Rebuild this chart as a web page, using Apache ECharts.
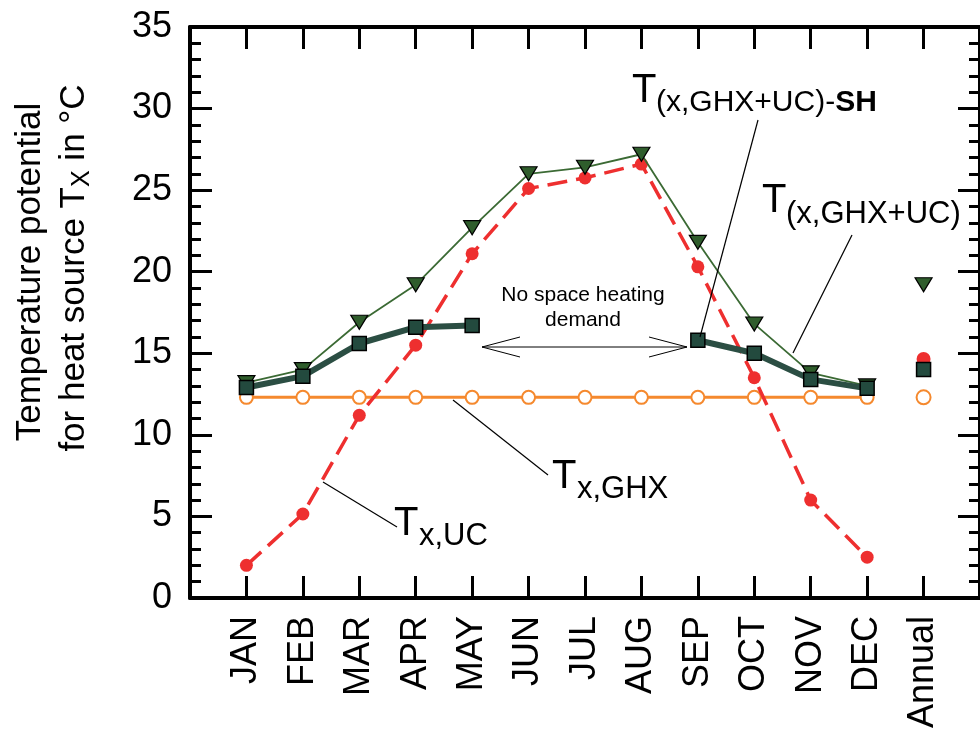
<!DOCTYPE html>
<html>
<head>
<meta charset="utf-8">
<script src="https://cdn.jsdelivr.net/npm/echarts@6/dist/echarts.min.js"></script>
<style>
html,body{margin:0;padding:0;background:#fff;}
#chart{width:980px;height:746px;}
</style>
</head>
<body>
<div id="chart"></div>
<script>
// ---- data ----
const categories = ['JAN','FEB','MAR','APR','MAY','JUN','JUL','AUG','SEP','OCT','NOV','DEC'];
const annualLabel = 'Annual';
const yTicks = [0,5,10,15,20,25,30,35];

const tGhxUc   = [13.2, 14.0, 16.9, 19.2, 22.7, 26.0, 26.4, 27.2, 21.8, 16.8, 13.8, 13.0];
const tGhxUcSH = [12.9, 13.6, 15.6, 16.6, 16.7, null, null, null, 15.8, 15.0, 13.4, 12.85];
const tUc      = [2.0, 5.15, 11.2, 15.5, 21.1, 25.1, 25.75, 26.6, 20.3, 13.5, 6.0, 2.5];
const tGhx     = [12.3, 12.3, 12.3, 12.3, 12.3, 12.3, 12.3, 12.3, 12.3, 12.3, 12.3, 12.3];

const annualGhxUc = 19.2;
const annualGhxUcSH = 14.0;
const annualUc = 14.65;
const annualGhx = 12.3;

// ---- helpers ----
const allLabels = categories.concat([annualLabel]);
const pos = i => i + 1;
const monthly = arr => arr.map((v, i) => [pos(i), v]);
const annualPos = categories.length + 1;

const FONT = '"Liberation Sans", Arial, sans-serif';
const RED = '#ee2f2f';
const ORANGE = '#f5892e';
const GREEN_LINE = '#3b6a34';
const GREEN_FILL = '#2f5d2c';
const SQ_LINE = '#2b4e43';
const SQ_FILL = '#234a3e';

const chart = echarts.init(document.getElementById('chart'), null, {renderer: 'canvas'});

const tickStyle = {color: '#000', width: 3};
const axisLineStyle = {color: '#000', width: 4};

const option = {
  backgroundColor: '#fff',
  animation: false,
  grid: {left: 190, top: 27, width: 794, height: 571, containLabel: false},
  xAxis: [
    {
      type: 'value', position: 'bottom', min: 0, max: 14, interval: 1,
      axisLine: {show: true, onZero: false, lineStyle: axisLineStyle},
      axisTick: {show: true, inside: true, length: 22, lineStyle: tickStyle},
      splitLine: {show: false},
      axisLabel: {
        show: true, rotate: 90, margin: 18, color: '#000', fontSize: 36, fontFamily: FONT,
        formatter: v => allLabels[v - 1] || ''
      }
    },
    {
      type: 'value', position: 'top', min: 0, max: 14, interval: 1,
      axisLine: {show: true, onZero: false, lineStyle: axisLineStyle},
      axisTick: {show: true, inside: true, length: 22, lineStyle: tickStyle},
      splitLine: {show: false},
      axisLabel: {show: false}
    }
  ],
  yAxis: [
    {
      type: 'value', position: 'left', min: yTicks[0], max: yTicks[yTicks.length - 1], interval: 5,
      axisLine: {show: true, onZero: false, lineStyle: axisLineStyle},
      axisTick: {show: true, inside: true, length: 22, lineStyle: tickStyle},
      minorTick: {show: true, splitNumber: 5, length: 11, lineStyle: tickStyle},
      splitLine: {show: false},
      axisLabel: {show: true, margin: 18, color: '#000', fontSize: 36, fontFamily: FONT}
    },
    {
      type: 'value', position: 'right', min: yTicks[0], max: yTicks[yTicks.length - 1], interval: 5,
      axisLine: {show: true, onZero: false, lineStyle: axisLineStyle},
      axisTick: {show: true, inside: true, length: 22, lineStyle: tickStyle},
      minorTick: {show: true, splitNumber: 5, length: 11, lineStyle: tickStyle},
      splitLine: {show: false},
      axisLabel: {show: false}
    }
  ],
  series: [
    {
      name: 'Tx,GHX', type: 'line', data: monthly(tGhx), z: 2,
      symbol: 'circle', symbolSize: 13,
      lineStyle: {color: ORANGE, width: 3},
      itemStyle: {color: '#fff', borderColor: ORANGE, borderWidth: 2}
    },
    {
      name: 'Tx,UC', type: 'line', data: monthly(tUc), z: 3,
      symbol: 'circle', symbolSize: 13,
      lineStyle: {color: RED, width: 3.5, type: [20, 9]},
      itemStyle: {color: RED, borderWidth: 0}
    },
    {
      name: 'T(x,GHX+UC)', type: 'line', data: monthly(tGhxUc), z: 4,
      symbol: 'triangle', symbolSize: [17, 14], symbolRotate: 180,
      lineStyle: {color: GREEN_LINE, width: 1.8},
      itemStyle: {color: GREEN_FILL, borderColor: '#000', borderWidth: 1.2}
    },
    {
      name: 'T(x,GHX+UC)-SH', type: 'line', data: monthly(tGhxUcSH), z: 5,
      connectNulls: false,
      symbol: 'rect', symbolSize: 14,
      lineStyle: {color: SQ_LINE, width: 6},
      itemStyle: {color: SQ_FILL, borderColor: '#000', borderWidth: 1.5}
    },
    {
      type: 'scatter', data: [[annualPos, annualGhx]], z: 2,
      symbol: 'circle', symbolSize: 14,
      itemStyle: {color: '#fff', borderColor: ORANGE, borderWidth: 2, opacity: 1}
    },
    {
      type: 'scatter', data: [[annualPos, annualUc]], z: 3,
      symbol: 'circle', symbolSize: 14,
      itemStyle: {color: RED, opacity: 1}
    },
    {
      type: 'scatter', data: [[annualPos, annualGhxUc]], z: 4,
      symbol: 'triangle', symbolSize: [17, 14], symbolRotate: 180,
      itemStyle: {color: GREEN_FILL, borderColor: '#000', borderWidth: 1.2, opacity: 1}
    },
    {
      type: 'scatter', data: [[annualPos, annualGhxUcSH]], z: 5,
      symbol: 'rect', symbolSize: 14,
      itemStyle: {color: SQ_FILL, borderColor: '#000', borderWidth: 1.5, opacity: 1}
    }
  ],
  graphic: [
    // y axis title
    {
      type: 'text', x: 30, y: 272, rotation: Math.PI / 2, z: 100,
      style: {text: 'Temperature potential', fontSize: 35, fontFamily: FONT, fill: '#000',
              align: 'center', verticalAlign: 'middle'}
    },
    {
      type: 'text', x: 74, y: 268, rotation: Math.PI / 2, z: 100,
      style: {
        text: '{n|for heat source T}{s|X}{n| in °C}',
        fontFamily: FONT, fill: '#000', align: 'center', verticalAlign: 'middle',
        rich: {
          n: {fontSize: 35, fontFamily: FONT, fill: '#000', lineHeight: 42, verticalAlign: 'middle'},
          s: {fontSize: 25, fontFamily: FONT, fill: '#000', lineHeight: 25, verticalAlign: 'bottom'}
        }
      }
    },
    // annotation: T(x,GHX+UC)-SH
    {type: 'text', x: 632, y: 91, z: 100,
     style: {text: 'T', fontSize: 40, fontFamily: FONT, fill: '#000', align: 'left', verticalAlign: 'middle'}},
    {type: 'text', x: 656, y: 103, z: 100,
     style: {text: '{n|(x,GHX+UC)-}{b|SH}', fontFamily: FONT, fill: '#000', align: 'left', verticalAlign: 'middle',
             rich: {n: {fontSize: 30, fontFamily: FONT, fill: '#000'},
                    b: {fontSize: 30, fontFamily: FONT, fill: '#000', fontWeight: 'bold'}}}},
    {type: 'line', z: 100, shape: {x1: 758, y1: 120, x2: 700, y2: 337}, style: {stroke: '#000', lineWidth: 1.2}},
    // annotation: T(x,GHX+UC)
    {type: 'text', x: 762, y: 201, z: 100,
     style: {text: 'T', fontSize: 40, fontFamily: FONT, fill: '#000', align: 'left', verticalAlign: 'middle'}},
    {type: 'text', x: 786, y: 214, z: 100,
     style: {text: '(x,GHX+UC)', fontSize: 31, fontFamily: FONT, fill: '#000', align: 'left', verticalAlign: 'middle'}},
    {type: 'line', z: 100, shape: {x1: 852, y1: 235, x2: 793, y2: 353}, style: {stroke: '#000', lineWidth: 1.2}},
    // annotation: Tx,GHX
    {type: 'text', x: 552, y: 477, z: 100,
     style: {text: 'T', fontSize: 40, fontFamily: FONT, fill: '#000', align: 'left', verticalAlign: 'middle'}},
    {type: 'text', x: 577, y: 489, z: 100,
     style: {text: 'x,GHX', fontSize: 31, fontFamily: FONT, fill: '#000', align: 'left', verticalAlign: 'middle'}},
    {type: 'line', z: 100, shape: {x1: 453, y1: 400, x2: 548, y2: 475}, style: {stroke: '#000', lineWidth: 1.2}},
    // annotation: Tx,UC
    {type: 'text', x: 394, y: 524, z: 100,
     style: {text: 'T', fontSize: 40, fontFamily: FONT, fill: '#000', align: 'left', verticalAlign: 'middle'}},
    {type: 'text', x: 419, y: 536, z: 100,
     style: {text: 'x,UC', fontSize: 31, fontFamily: FONT, fill: '#000', align: 'left', verticalAlign: 'middle'}},
    {type: 'line', z: 100, shape: {x1: 323, y1: 482, x2: 397, y2: 527}, style: {stroke: '#000', lineWidth: 1.2}},
    // no space heating demand
    {type: 'text', x: 583, y: 308, z: 100,
     style: {text: 'No space heating\ndemand', fontSize: 21, lineHeight: 25, fontFamily: FONT, fill: '#000',
             align: 'center', verticalAlign: 'middle'}},
    {type: 'line', z: 100, shape: {x1: 482, y1: 347, x2: 687, y2: 347}, style: {stroke: '#000', lineWidth: 1}},
    {type: 'polyline', z: 100, shape: {points: [[520, 337], [482, 347], [520, 357]]}, style: {stroke: '#000', fill: null, lineWidth: 1}},
    {type: 'polyline', z: 100, shape: {points: [[649, 337], [687, 347], [649, 357]]}, style: {stroke: '#000', fill: null, lineWidth: 1}}
  ]
};

chart.setOption(option);
</script>
</body>
</html>
